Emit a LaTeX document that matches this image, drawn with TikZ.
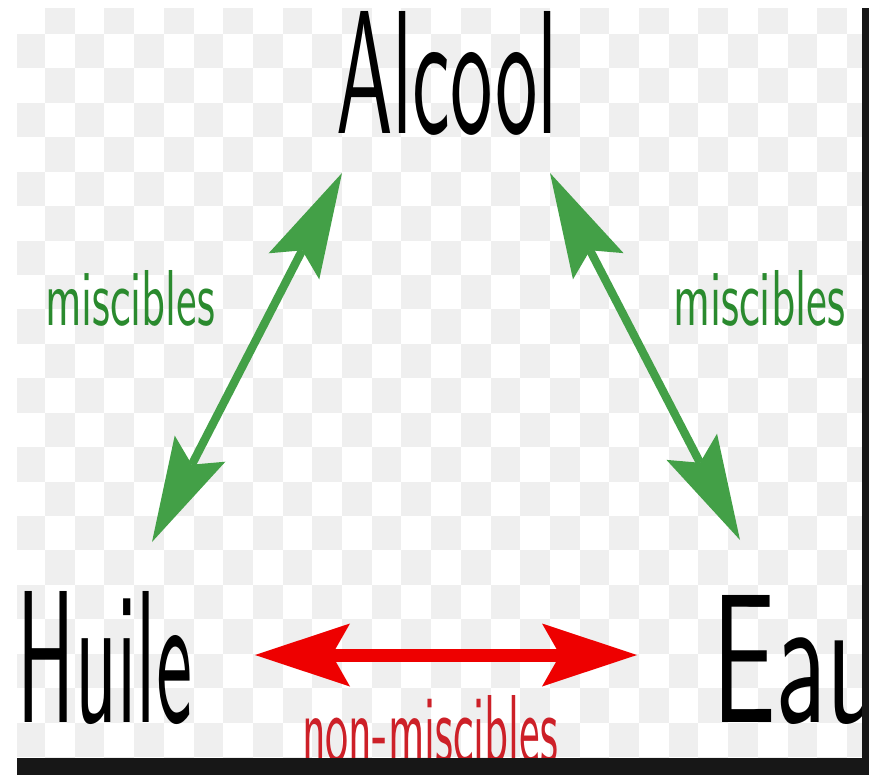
\documentclass[tikz,border=0pt]{standalone}
\usepackage{graphicx}
\usetikzlibrary{arrows.meta}
\definecolor{checkgray}{RGB}{239,239,239}
\definecolor{framedark}{RGB}{23,23,23}
\definecolor{mixgreen}{RGB}{67,160,71}
\definecolor{mixgreentext}{RGB}{42,138,46}
\definecolor{nomixred}{RGB}{238,0,0}
\definecolor{nomixredtext}{RGB}{205,32,40}
\tikzset{
  word/.style={anchor=base west, inner sep=0pt, outer sep=0pt, font=\sffamily},
  mixarrow/.style={draw=mixgreen, fill=mixgreen, line width=2.5mm, {Stealth[length=31.5mm, width=17.1mm, inset=5.4mm, line width=0pt]}-{Stealth[length=31.5mm, width=17.1mm, inset=5.4mm, line width=0pt]}},
  nomixarrow/.style={draw=nomixred, fill=nomixred, line width=3.9mm, {Stealth[length=28.5mm, width=18.9mm, inset=5.4mm, line width=0pt]}-{Stealth[length=28.5mm, width=18.9mm, inset=5.4mm, line width=0pt]}}
}
\begin{document}
\begin{tikzpicture}[x=0.3mm, y=-0.3mm]
	\useasboundingbox (0,0) rectangle (869,775);
	\fill[white] (0,0) rectangle (869,775);
	\begin{scope}
		\clip (17,8) rectangle (862,758);
		\foreach \i in {0,...,28}
		{
			\foreach \j in {0,...,22}
			{
				\ifodd\numexpr\i+\j\relax
					\fill[checkgray] ({15.3+29.7*\i},{-0.5+34.43*\j}) rectangle ++(29.7,34.43);
				\fi
			}
		}
		\node[word] (huile) at (18,722) {\resizebox{52.2mm}{39.3mm}{Huile}};
		\node[word] (eau) at (712,722) {\resizebox{51mm}{38.1mm}{Eau}};
		\node[word, text=nomixredtext] (nonmisc) at (302,762) {\resizebox{76.8mm}{20.1mm}{non-miscibles}};
	\end{scope}
	\node[word] (alcool) at (336,133) {\resizebox{66.6mm}{36.6mm}{Alcool}};
	\node[word, text=mixgreentext] (misc-l) at (45,325) {\resizebox{51mm}{16.5mm}{miscibles}};
	\node[word, text=mixgreentext] (misc-r) at (673,325) {\resizebox{51.6mm}{16.5mm}{miscibles}};
	\coordinate (alcool-sw) at (342,173);
	\coordinate (alcool-se) at (550,173);
	\coordinate (huile-n) at (152,542);
	\coordinate (eau-n) at (740,540);
	\coordinate (huile-e) at (255,655);
	\coordinate (eau-w) at (637,655);
	\draw[mixarrow] (huile-n) -- (alcool-sw);
	\draw[mixarrow] (eau-n) -- (alcool-se);
	\draw[nomixarrow] (huile-e) -- (eau-w);
	\fill[framedark] (862,8) rectangle (869,775);
	\fill[framedark] (17,758) rectangle (869,775);
\end{tikzpicture}
\end{document}
